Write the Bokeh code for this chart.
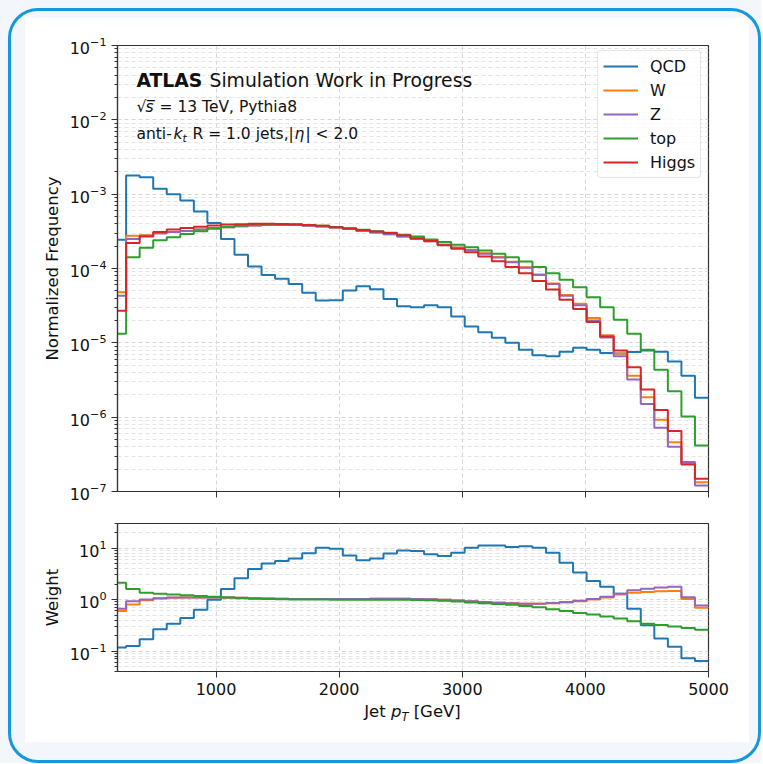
import numpy as np
from bokeh.plotting import figure
from bokeh.models import (Range1d, FixedTicker, Legend, LegendItem, Label, Column,
                          Row, Div, Spacer)
from bokeh.embed import file_html
from bokeh.resources import INLINE

# ---------------- data ----------------
bin_edges = [160, 270, 380, 490, 600, 710, 820, 930, 1040, 1150, 1260, 1370, 1480,
             1590, 1700, 1810, 1920, 2030, 2140, 2250, 2360, 2470, 2580, 2690, 2800,
             2910, 3020, 3130, 3240, 3350, 3460, 3570, 3680, 3790, 3900, 4010, 4120,
             4230, 4340, 4450, 4560, 4670, 4780, 4890, 5000]

freq_qcd = [2.43e-4, 1.78e-3, 1.69e-3, 1.18e-3, 1.0e-3, 8.2e-4, 5.85e-4, 4.1e-4, 2.5e-4,
            1.53e-4, 1.06e-4, 8.2e-5, 7.3e-5, 6.2e-5, 4.7e-5, 3.7e-5, 3.75e-5, 5.06e-5,
            5.75e-5, 5.25e-5, 3.9e-5, 3.1e-5, 3.0e-5, 3.2e-5, 3.0e-5, 2.26e-5, 1.66e-5,
            1.39e-5, 1.17e-5, 1.0e-5, 8.05e-6, 6.8e-6, 6.6e-6, 7.6e-6, 8.6e-6, 8.1e-6,
            7.3e-6, 7.2e-6, 7.5e-6, 7.9e-6, 7.6e-6, 5.6e-6, 3.6e-6, 1.82e-6]
freq_w = [4.8e-5, 2.75e-4, 2.8e-4, 3.0e-4, 3.1e-4, 3.2e-4, 3.35e-4, 3.5e-4, 3.6e-4,
          3.7e-4, 3.8e-4, 3.85e-4, 3.85e-4, 3.85e-4, 3.75e-4, 3.68e-4, 3.55e-4, 3.4e-4,
          3.2e-4, 3.05e-4, 2.9e-4, 2.7e-4, 2.5e-4, 2.33e-4, 2.08e-4, 1.92e-4, 1.78e-4,
          1.6e-4, 1.43e-4, 1.23e-4, 1.04e-4, 8.3e-5, 6.3e-5, 4.4e-5, 3.35e-5, 2.15e-5,
          1.26e-5, 7.2e-6, 3.6e-6, 1.86e-6, 9.2e-7, 4.6e-7, 2.4e-7, 1.33e-7]
freq_z = [4.3e-5, 2.5e-4, 2.75e-4, 2.95e-4, 3.1e-4, 3.2e-4, 3.35e-4, 3.5e-4, 3.6e-4,
          3.7e-4, 3.8e-4, 3.85e-4, 3.85e-4, 3.85e-4, 3.75e-4, 3.68e-4, 3.55e-4, 3.4e-4,
          3.2e-4, 3.05e-4, 2.9e-4, 2.7e-4, 2.5e-4, 2.33e-4, 2.08e-4, 1.9e-4, 1.76e-4,
          1.58e-4, 1.41e-4, 1.21e-4, 1.02e-4, 8.2e-5, 6.2e-5, 4.3e-5, 3.2e-5, 2.0e-5,
          1.18e-5, 6.6e-6, 3.2e-6, 1.5e-6, 7.2e-7, 4.0e-7, 2.5e-7, 1.2e-7]
freq_top = [1.33e-5, 1.42e-4, 1.9e-4, 2.4e-4, 2.63e-4, 2.92e-4, 3.18e-4, 3.42e-4, 3.65e-4,
            3.8e-4, 3.9e-4, 3.95e-4, 3.95e-4, 3.92e-4, 3.85e-4, 3.75e-4, 3.62e-4, 3.48e-4,
            3.33e-4, 3.18e-4, 3.02e-4, 2.85e-4, 2.7e-4, 2.45e-4, 2.28e-4, 2.09e-4, 1.93e-4,
            1.75e-4, 1.58e-4, 1.42e-4, 1.24e-4, 1.05e-4, 8.65e-5, 7.05e-5, 5.6e-5, 4.1e-5,
            3.0e-5, 2.04e-5, 1.32e-5, 8.05e-6, 4.33e-6, 2.24e-6, 1.02e-6, 4.17e-7]
freq_higgs = [2.7e-5, 2.2e-4, 2.7e-4, 3.1e-4, 3.35e-4, 3.5e-4, 3.65e-4, 3.8e-4, 3.9e-4,
              3.95e-4, 4.0e-4, 4.0e-4, 3.98e-4, 3.95e-4, 3.85e-4, 3.75e-4, 3.6e-4, 3.45e-4,
              3.3e-4, 3.15e-4, 3.0e-4, 2.8e-4, 2.55e-4, 2.35e-4, 2.05e-4, 1.85e-4, 1.65e-4,
              1.45e-4, 1.25e-4, 1.05e-4, 8.6e-5, 6.8e-5, 5.2e-5, 3.8e-5, 2.85e-5, 1.9e-5,
              1.22e-5, 7.9e-6, 4.7e-6, 2.35e-6, 1.25e-6, 6.5e-7, 2.3e-7, 1.48e-7]

weight_qcd = [0.117, 0.125, 0.17, 0.265, 0.34, 0.44, 0.63, 0.99, 1.6, 2.6, 3.9, 5.0, 5.6,
              6.3, 7.9, 10.1, 9.7, 7.2, 5.8, 6.3, 7.8, 9.0, 8.8, 7.6, 7.0, 8.1, 10.1, 11.2,
              11.2, 10.5, 10.8, 10.1, 8.1, 5.2, 3.35, 2.3, 1.78, 1.29, 0.66, 0.316, 0.175,
              0.121, 0.072, 0.064]
weight_w = [0.60, 0.80, 0.97, 1.05, 1.08, 1.10, 1.10, 1.10, 1.09, 1.08, 1.06, 1.05, 1.04,
            1.03, 1.03, 1.02, 1.02, 1.02, 1.03, 1.04, 1.04, 1.04, 1.03, 1.01, 0.99, 0.96,
            0.93, 0.90, 0.87, 0.85, 0.83, 0.83, 0.85, 0.88, 0.93, 1.00, 1.10, 1.25, 1.36,
            1.40, 1.45, 1.47, 1.03, 0.69]
weight_z = [0.66, 0.93, 1.00, 1.06, 1.09, 1.10, 1.10, 1.10, 1.09, 1.08, 1.06, 1.05, 1.04,
            1.03, 1.03, 1.02, 1.02, 1.02, 1.03, 1.04, 1.04, 1.04, 1.03, 1.01, 0.99, 0.96,
            0.93, 0.90, 0.87, 0.85, 0.83, 0.83, 0.86, 0.90, 0.95, 1.03, 1.13, 1.29, 1.52,
            1.62, 1.72, 1.78, 1.11, 0.77]
weight_top = [2.12, 1.60, 1.36, 1.29, 1.25, 1.21, 1.17, 1.13, 1.09, 1.06, 1.04, 1.02, 1.01,
              1.00, 1.00, 1.00, 0.99, 0.99, 0.99, 0.99, 0.99, 0.99, 0.98, 0.97, 0.95, 0.92,
              0.88, 0.85, 0.82, 0.79, 0.75, 0.71, 0.65, 0.60, 0.55, 0.51, 0.47, 0.43, 0.38,
              0.34, 0.32, 0.30, 0.28, 0.26]

sample_names = ["QCD", "W", "Z", "top", "Higgs"]
sample_colors = ["#1f77b4", "#ff7f0e", "#9467bd", "#2ca02c", "#d62728"]
freq_series = [freq_qcd, freq_w, freq_z, freq_top, freq_higgs]
weight_series = [weight_qcd, weight_w, weight_z, weight_top]

x_tick_values = [1000, 2000, 3000, 4000, 5000]
freq_major = [1e-7, 1e-6, 1e-5, 1e-4, 1e-3, 1e-2, 1e-1]
freq_minor = [m * d for d in freq_major[:-1] for m in range(2, 10)]
weight_major = [0.1, 1.0, 10.0]
weight_minor = [0.04, 0.05, 0.06, 0.07, 0.08, 0.09] + \
               [m * d for d in weight_major for m in range(2, 10)]

FONT = "DejaVu Sans"
AX = "#333333"
TXT = "#111111"


def style(p, ymaj, ymin):
    p.background_fill_color = "white"
    p.border_fill_color = "white"
    p.outline_line_color = AX
    p.outline_line_width = 1.2
    for ax in (p.xaxis[0], p.yaxis[0]):
        ax.axis_line_color = AX
        ax.axis_line_width = 1.2
        ax.major_tick_line_color = AX
        ax.major_tick_out = 6
        ax.major_tick_in = 0
        ax.minor_tick_line_color = AX
        ax.minor_tick_out = 3
        ax.minor_tick_in = 0
        ax.major_label_text_font = FONT
        ax.major_label_text_font_size = "16px"
        ax.major_label_text_color = TXT
        ax.axis_label_text_font = FONT
        ax.axis_label_text_font_size = "16.5px"
        ax.axis_label_text_font_style = "normal"
        ax.axis_label_text_color = TXT
    p.xaxis.ticker = FixedTicker(ticks=x_tick_values)
    p.xaxis.minor_tick_line_color = None
    p.yaxis.ticker = FixedTicker(ticks=ymaj, minor_ticks=ymin)
    p.xgrid.grid_line_color = "#d6d6d6"
    p.xgrid.grid_line_dash = "4 3"
    p.ygrid.grid_line_color = "#d6d6d6"
    p.ygrid.grid_line_dash = "4 3"
    p.ygrid.minor_grid_line_color = "#e4e4e4"
    p.ygrid.minor_grid_line_dash = "4 3"


def step_xy(vals):
    return bin_edges, list(vals) + [vals[-1]]


# ---------------- top panel ----------------
p_top = figure(width=724, height=488, x_range=Range1d(200, 5000),
               y_range=Range1d(1e-7, 1e-1), y_axis_type="log",
               output_backend="svg", toolbar_location=None,
               min_border_left=92, min_border_right=41,
               min_border_top=27, min_border_bottom=15)
style(p_top, freq_major, freq_minor)
p_top.xaxis.major_label_text_alpha = 0
p_top.xaxis.major_label_text_font_size = "1px"
p_top.xaxis.major_label_standoff = 0
p_top.yaxis.axis_label = "Normalized Frequency"

items = []
for name, col, vals in zip(sample_names, sample_colors, freq_series):
    xs, ys = step_xy(vals)
    r = p_top.step(xs, ys, mode="after", line_color=col, line_width=2)
    items.append(LegendItem(label=name, renderers=[r]))

legend = Legend(items=items, location=(480, 313), orientation="vertical",
                label_text_font=FONT, label_text_font_size="16px",
                label_text_color=TXT,
                glyph_width=35, glyph_height=20, label_height=20,
                spacing=4, padding=5, label_standoff=12, margin=0,
                border_line_color="#cccccc", border_line_width=1,
                background_fill_color="white", background_fill_alpha=0.8)
try:
    legend.border_radius = 4
except Exception:
    pass
p_top.add_layout(legend)


# annotations (data coordinates)
def lab(p, text, x, y, size, fstyle="normal", xo=0, yo=0):
    p.add_layout(Label(x=x, y=y, text=text, x_offset=xo, y_offset=yo,
                       text_font=FONT, text_font_size=size,
                       text_font_style=fstyle, text_color=TXT,
                       text_baseline="alphabetic", text_align="left"))


X0 = 354
lab(p_top, "ATLAS", X0, 0.0338, "18.8px", "bold")
lab(p_top, "Simulation Work in Progress", X0, 0.0338, "18.8px", "normal", xo=73)
lab(p_top, "\u221a", X0, 0.0151, "15.5px")
lab(p_top, "s\u0305", X0, 0.0151, "15.5px", "italic", xo=9)
lab(p_top, "=", X0, 0.0151, "15.5px", xo=23)
lab(p_top, "13 TeV, Pythia8", X0, 0.0151, "15.5px", xo=41)
lab(p_top, "anti-", X0, 0.00635, "15.5px")
lab(p_top, "k", X0, 0.00635, "15.5px", "italic", xo=37)
lab(p_top, "t", X0, 0.00562, "11px", "italic", xo=46)
lab(p_top, "R = 1.0 jets,|", X0, 0.00635, "15.5px", xo=56)
lab(p_top, "\u03b7", X0, 0.00635, "15.5px", "italic", xo=158)
lab(p_top, "| < 2.0", X0, 0.00635, "15.5px", xo=169)

# ---------------- bottom panel ----------------
p_bot = figure(width=724, height=196, x_range=p_top.x_range,
               y_range=Range1d(0.04, 30), y_axis_type="log",
               output_backend="svg", toolbar_location=None,
               min_border_left=92, min_border_right=41,
               min_border_top=17, min_border_bottom=31)
style(p_bot, weight_major, weight_minor)
p_bot.xaxis.major_label_standoff = 5
p_bot.yaxis.axis_label = "Weight"

for col, vals in zip(sample_colors[:4], weight_series):
    xs, ys = step_xy(vals)
    p_bot.step(xs, ys, mode="after", line_color=col, line_width=2)

# x-axis title (italic p with subscript T)
xlabel_html = ('<div style="font-family:\'DejaVu Sans\';font-size:16.5px;color:#111111;'
               'text-align:center;line-height:19px;margin:0;padding:0;width:591px;">'
               'Jet <i>p</i><sub style="font-size:11.5px;font-style:italic;'
               'line-height:0;vertical-align:-4px;">T</sub> [GeV]</div>')
xlabel_row = Row(children=[Spacer(width=92, height=40),
                           Div(text=xlabel_html, width=591, height=40,
                               styles={"margin": "0", "padding": "0"})],
                 spacing=0, styles={"background-color": "white"})

inner = Column(children=[p_top, p_bot, xlabel_row], spacing=0,
               styles={"background-color": "white"})
box = Column(children=[inner],
             styles={"border": "3.5px solid #1798d8", "border-radius": "30px",
                     "background-color": "#f3f6fb",
                     "padding": "7px 9px 18px 14px"})
page = Column(children=[box],
              styles={"background-color": "#f3f6fb",
                      "padding": "8px 0px 0px 8px"})

open("out.html", "w").write(file_html(page, INLINE))
